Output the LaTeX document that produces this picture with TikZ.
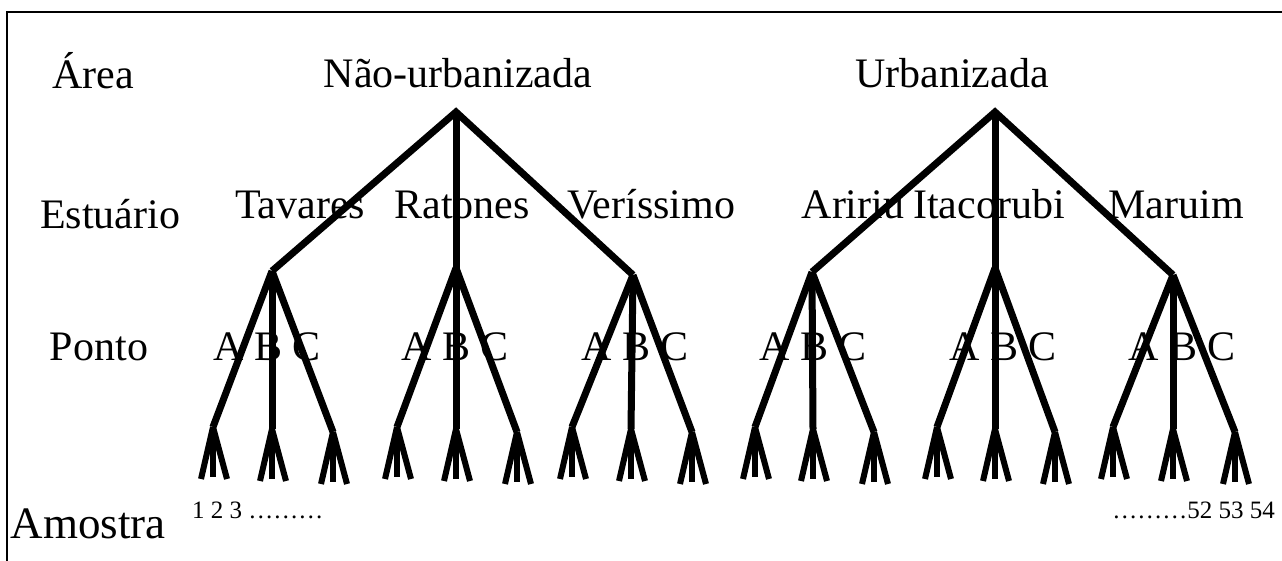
\documentclass[tikz,border=0pt]{standalone}
\usepackage{fontspec}
\setmainfont{Liberation Serif}
\begin{document}
\begin{tikzpicture}[x=1pt,y=-1pt,
  branch/.style={line width=7pt, line join=miter},
  prong/.style={line width=6pt},
  frame/.style={line width=2pt},
  lbl/.style={font=\fontsize{42}{42}\selectfont, anchor=base, inner sep=0pt},
  biglbl/.style={font=\fontsize{45}{45}\selectfont, anchor=base, inner sep=0pt},
  numlbl/.style={font=\fontsize{25}{25}\selectfont, inner sep=0pt}]
\useasboundingbox (0,0) rectangle (1282,560);
% frame (right and bottom sides lie outside the picture)
\coordinate (F1) at (1290,12);
\coordinate (F2) at (7,12);
\coordinate (F3) at (7,570);
\draw[frame] (F1) -- (F2) -- (F3);
% roots
\coordinate (R1) at (456,112);
\coordinate (R2) at (995,112);
% estuaries and points
\foreach \e/\ex/\ey/\xa/\xb/\xc in {1/272/271/213/272/333, 2/456/268/397/456/517, 3/633/275/572/631/692, 4/812/272/755/813/874, 5/995/268/937/995/1055, 6/1173/275/1113/1173/1235}{
  \coordinate (E\e) at (\ex,\ey);
  \foreach \k/\cx/\cy in {a/\xa/427, b/\xb/429, c/\xc/432}{
    \coordinate (P\e\k) at (\cx,\cy);
    \draw[branch] (E\e) -- (P\e\k);
    \foreach \m/\dx/\dy in {1/-12/52, 2/0/50, 3/14/52}{
      \coordinate (S\e\k\m) at ({\cx+\dx},{\cy+\dy});
      \draw[prong] (P\e\k) -- (S\e\k\m);
    }
  }
}
\draw[branch] (E1) -- (R1) -- (E3);
\draw[branch] (R1) -- (E2);
\draw[branch] (E4) -- (R2) -- (E6);
\draw[branch] (R2) -- (E5);
% row labels
\node[lbl] (larea) at (93,88) {Área};
\node[lbl] (lest) at (110,228) {Estuário};
\node[lbl] (lponto) at (99,360) {Ponto};
\node[biglbl] (lamostra) at (88,538) {Amostra};
% area labels
\node[lbl] (nurb) at (458,87) {Não-urbanizada};
\node[lbl] (urb) at (952,87) {Urbanizada};
% estuary labels
\node[lbl] (tav) at (300,218) {Tavares};
\node[lbl] (rat) at (462,218) {Ratones};
\node[lbl] (ver) at (651,218) {Veríssimo};
\node[lbl] (ari) at (853,218) {Aririu};
\node[lbl] (ita) at (989,218) {Itacorubi};
\node[lbl] (mar) at (1176,218) {Maruim};
% point labels
\foreach \i/\x in {1/267, 2/455, 3/635, 4/813, 5/1003, 6/1182}{
  \node[lbl] (abc\i) at (\x,360) {A B C};
}
% sample numbers
\node[numlbl, anchor=base west] (n1) at (192,518) {1 2 3 ………};
\node[numlbl, anchor=base east] (n2) at (1275,518) {………52 53 54};
\end{tikzpicture}
\end{document}
